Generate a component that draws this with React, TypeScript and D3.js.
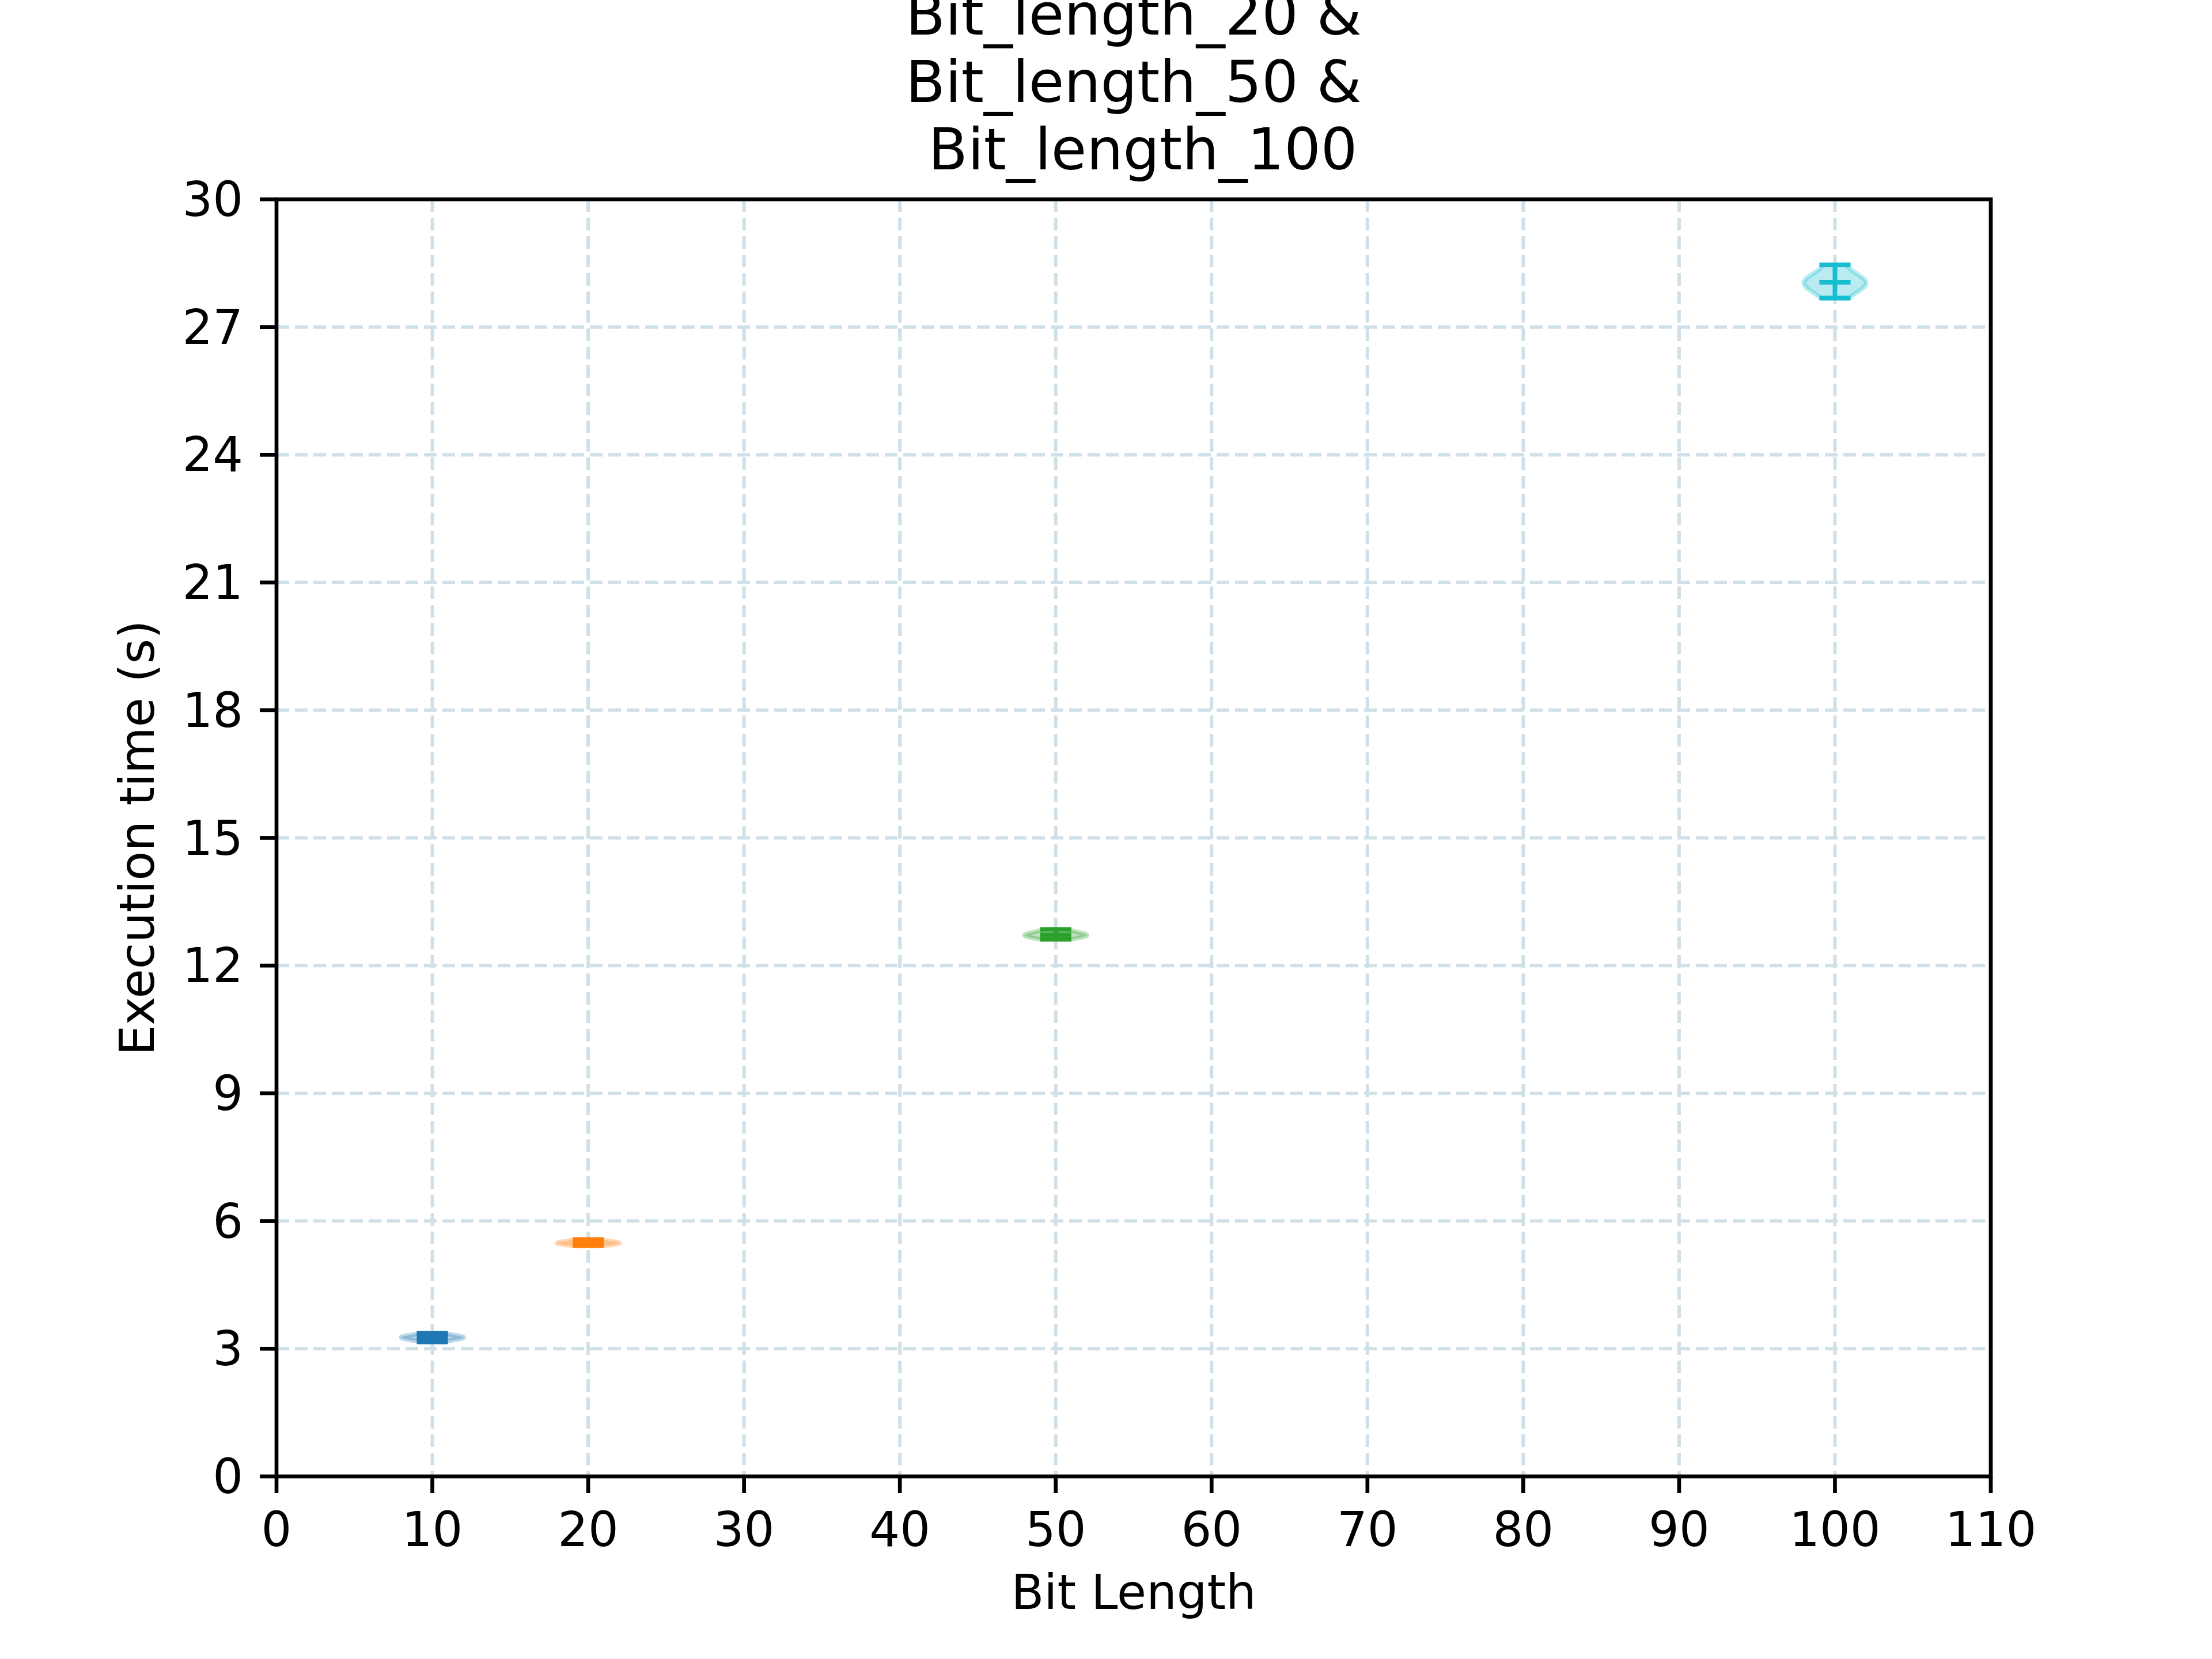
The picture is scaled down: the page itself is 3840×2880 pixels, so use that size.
import * as d3 from 'd3';

const bitLengths = [10, 20, 50, 100];
const colors = ['#1f77b4', '#ff7f0e', '#2ca02c', '#17becf'];
const samples: number[][] = [
  [3.16, 3.22, 3.25, 3.26, 3.28, 3.3, 3.36],
  [5.42, 5.45, 5.47, 5.48, 5.5, 5.52, 5.56],
  [12.62, 12.67, 12.7, 12.72, 12.74, 12.78, 12.85],
  [27.68, 27.88, 27.98, 28.05, 28.1, 28.2, 28.46],
];
const xTicks = d3.range(0, 111, 10);
const yTicks = d3.range(0, 31, 3);
const titleLines = ['Bit_length_10 &', 'Bit_length_20 &', 'Bit_length_50 &', ' Bit_length_100'];

const W = 3840;
const H = 2880;
const m = { left: 480, right: 3456, top: 346, bottom: 2563 };
const font = 'DejaVu Sans, sans-serif';

export default function App() {
  const x = d3.scaleLinear().domain([0, 110]).range([m.left, m.right]);
  const y = d3.scaleLinear().domain([0, 30]).range([m.bottom, m.top]);
  const halfWidth = 2; // violin half width in data units
  const capHalf = 1;

  const violins = samples.map((vals, i) => {
    const lo = d3.min(vals)!;
    const hi = d3.max(vals)!;
    const mean = d3.mean(vals)!;
    const sd = d3.deviation(vals)!;
    const bw = 1.06 * sd * Math.pow(vals.length, -0.2);
    const pts = d3.range(0, 51).map((k) => lo + ((hi - lo) * k) / 50);
    const dens = pts.map((p) => d3.sum(vals, (v) => Math.exp(-0.5 * ((p - v) / bw) ** 2)));
    const maxD = d3.max(dens)!;
    const cx = bitLengths[i];
    const area = d3
      .area<number>()
      .y((_, k) => y(pts[k]))
      .x0((_, k) => x(cx - (dens[k] / maxD) * halfWidth))
      .x1((_, k) => x(cx + (dens[k] / maxD) * halfWidth));
    return { cx, lo, hi, mean, path: area(pts)!, color: colors[i] };
  });

  return (
    <svg width={W} height={H} style={{ position: 'absolute', left: 0, top: 0, display: 'block', background: '#fff' }}>
      <rect width={W} height={H} fill="#fff" />
      {/* grid */}
      {xTicks.map((t) => (
        <line key={'gx' + t} x1={x(t)} x2={x(t)} y1={m.top} y2={m.bottom}
          stroke="#d0e0e8" strokeWidth={6} strokeDasharray="22 10" />
      ))}
      {yTicks.map((t) => (
        <line key={'gy' + t} x1={m.left} x2={m.right} y1={y(t)} y2={y(t)}
          stroke="#d0e0e8" strokeWidth={6} strokeDasharray="22 10" />
      ))}
      {/* violins */}
      {violins.map((v) => (
        <g key={v.cx}>
          <path d={v.path} fill={v.color} fillOpacity={0.3} stroke={v.color} strokeOpacity={0.3} strokeWidth={8} strokeLinejoin="round" />
          <line x1={x(v.cx)} x2={x(v.cx)} y1={y(v.lo)} y2={y(v.hi)} stroke={v.color} strokeWidth={8} />
          {[v.lo, v.hi, v.mean].map((val, k) => (
            <line key={k} x1={x(v.cx - capHalf)} x2={x(v.cx + capHalf)} y1={y(val)} y2={y(val)} stroke={v.color} strokeWidth={8} />
          ))}
        </g>
      ))}
      {/* frame */}
      <rect x={m.left} y={m.top} width={m.right - m.left} height={m.bottom - m.top} fill="none" stroke="#000" strokeWidth={6.7} />
      {/* ticks */}
      {xTicks.map((t) => (
        <g key={'tx' + t}>
          <line x1={x(t)} x2={x(t)} y1={m.bottom} y2={m.bottom + 29} stroke="#000" strokeWidth={6.7} />
          <text x={x(t)} y={m.bottom + 121} textAnchor="middle" fontFamily={font} fontSize={83}>{t}</text>
        </g>
      ))}
      {yTicks.map((t) => (
        <g key={'ty' + t}>
          <line x1={m.left - 29} x2={m.left} y1={y(t)} y2={y(t)} stroke="#000" strokeWidth={6.7} />
          <text x={m.left - 58} y={y(t)} dy="0.35em" textAnchor="end" fontFamily={font} fontSize={83}>{t}</text>
        </g>
      ))}
      <text x={(m.left + m.right) / 2} y={2793} textAnchor="middle" fontFamily={font} fontSize={83}>Bit Length</text>
      <text transform={`translate(238,${(m.top + m.bottom) / 2}) rotate(-90)`} textAnchor="middle" dy="0.35em" fontFamily={font} fontSize={83}>Execution time (s)</text>
      {titleLines.map((l, k) => (
        <text key={k} x={(m.left + m.right) / 2} y={294 - (titleLines.length - 1 - k) * 117} textAnchor="middle"
          fontFamily={font} fontSize={100} style={{ whiteSpace: 'pre' }}>{l}</text>
      ))}
    </svg>
  );
}
